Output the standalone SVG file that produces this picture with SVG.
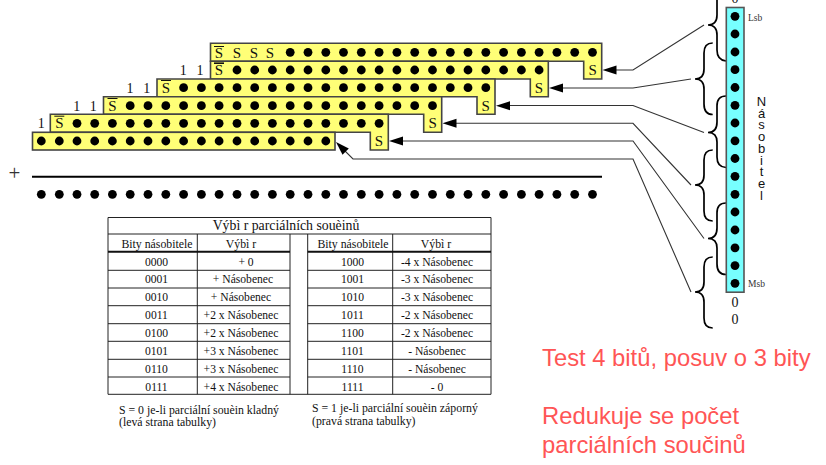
<svg xmlns="http://www.w3.org/2000/svg" width="826" height="465" viewBox="0 0 826 465">
<style>
text{font-family:"Liberation Serif",serif;fill:#111}
.bar{fill:#ffff77;stroke:#444;stroke-width:1.6}
.mul{fill:#77ffff;stroke:#555;stroke-width:1.6}
.d{fill:#000}
.b{font-size:15px;text-anchor:middle}
.o{font-size:14px;text-anchor:middle}
.c{font-size:11.6px;text-anchor:middle}
.h{font-size:11.8px;text-anchor:middle}
.n{font-size:11.8px}
.m{font-size:9.500px;fill:#333}
.v{font-family:"Liberation Sans",sans-serif;font-size:13px;text-anchor:middle}
.r{font-family:"Liberation Sans",sans-serif;font-size:23.8px;fill:#ff5555}
.w{fill:none;stroke:#333;stroke-width:1.1}
.br{fill:none;stroke:#000;stroke-width:1.7}
.t{fill:none;stroke:#222;stroke-width:1}
.tk{fill:none;stroke:#111;stroke-width:2}
.a{fill:#000}
</style>
<defs>
<circle id="p" r="4.4" class="d"/>
</defs>
<g id="connectors">
<path class="w" d="M704 25L633 70H616"/>
<path class="w" d="M691 79L633 88H562"/>
<path class="w" d="M704 132.500L633 105.500H510"/>
<path class="w" d="M691 185L633 123.300H456"/>
<path class="w" d="M704 238.500L633 141H403"/>
<path class="w" d="M691 292L633 159H353L342 148"/>
<path class="a" d="M602.500 70l14-4.500v9z"/>
<path class="a" d="M549 88l14-4.500v9z"/>
<path class="a" d="M496 105.700l14-4.500v9z"/>
<path class="a" d="M442.500 123.300l14-4.500v9z"/>
<path class="a" d="M389 141l14-4.500v9z"/>
<path class="a" d="M336 142l12.800 6.500-6.300 6.300z"/>
</g>
<g id="braces">
<path class="br" d="M717 0V15Q717 25 708 25Q717 25 717 35V50Q717 60 726 61"/>
<path class="br" d="M712.700 43Q704 43 704 53V69Q704 79 695 79Q704 79 704 89V104Q704 114.500 712.700 114.500"/>
<path class="br" d="M726 96Q717 96 717 106V122Q717 132.500 708 132.500Q717 132.500 717 142V157Q717 167 726 167.500"/>
<path class="br" d="M712.700 150Q704 150 704 160V175Q704 185 695 185Q704 185 704 195V211Q704 221 712.700 221"/>
<path class="br" d="M726 203Q717 203 717 213V228Q717 238.500 708 238.500Q717 238.500 717 248V264Q717 274.500 726 274.500"/>
<path class="br" d="M712.700 257Q704 257 704 267V282Q704 292 695 292Q704 292 704 302V318Q704 328 712.700 328"/>
</g>
<g id="row1">
<path class="bar" d="M210.500 43.300H601.700V79H583.700V61.300H210.500Z"/>
<text class="b" x="219" y="57.500">S</text><path d="M214 46.500h10" stroke="#111" stroke-width="1"/>
<text class="b" x="237" y="57.500">S</text><text class="b" x="254" y="57.500">S</text><text class="b" x="270" y="57.500">S</text>
<use href="#p" x="290.200" y="52.300"/><use href="#p" x="308" y="52.300"/><use href="#p" x="325.800" y="52.300"/><use href="#p" x="343.500" y="52.300"/><use href="#p" x="361.300" y="52.300"/><use href="#p" x="379.100" y="52.300"/><use href="#p" x="396.900" y="52.300"/><use href="#p" x="414.700" y="52.300"/><use href="#p" x="432.500" y="52.300"/><use href="#p" x="450.300" y="52.300"/><use href="#p" x="468" y="52.300"/><use href="#p" x="485.800" y="52.300"/><use href="#p" x="503.600" y="52.300"/><use href="#p" x="521.400" y="52.300"/><use href="#p" x="539.100" y="52.300"/><use href="#p" x="556.900" y="52.300"/><use href="#p" x="574.700" y="52.300"/><use href="#p" x="592.500" y="52.300"/>
<text class="b" x="592.700" y="75">S</text>
</g>
<g id="row2">
<path class="bar" d="M210.500 61.300H548.300V96.700H530.300V79H210.500Z"/>
<text class="b" x="219" y="75">S</text><path d="M214 63.200h10" stroke="#111" stroke-width="1.600"/>
<use href="#p" x="237" y="70"/><use href="#p" x="254.700" y="70"/><use href="#p" x="272.400" y="70"/><use href="#p" x="290.200" y="70"/><use href="#p" x="308" y="70"/><use href="#p" x="325.800" y="70"/><use href="#p" x="343.500" y="70"/><use href="#p" x="361.300" y="70"/><use href="#p" x="379.100" y="70"/><use href="#p" x="396.900" y="70"/><use href="#p" x="414.700" y="70"/><use href="#p" x="432.500" y="70"/><use href="#p" x="450.300" y="70"/><use href="#p" x="468" y="70"/><use href="#p" x="485.800" y="70"/><use href="#p" x="503.600" y="70"/><use href="#p" x="521.400" y="70"/><use href="#p" x="539.100" y="70"/>
<text class="b" x="539" y="92.700">S</text>
<text class="o" x="183.300" y="74.700">1</text><text class="o" x="200" y="74.700">1</text>
</g>
<g id="row3">
<path class="bar" d="M157 79H495V114.300H477V96.700H157Z"/>
<text class="b" x="165.800" y="92.700">S</text><path d="M161 80.500h10" stroke="#111" stroke-width="1"/>
<use href="#p" x="183.600" y="87.700"/><use href="#p" x="201.400" y="87.700"/><use href="#p" x="219.100" y="87.700"/><use href="#p" x="237" y="87.700"/><use href="#p" x="254.700" y="87.700"/><use href="#p" x="272.400" y="87.700"/><use href="#p" x="290.200" y="87.700"/><use href="#p" x="308" y="87.700"/><use href="#p" x="325.800" y="87.700"/><use href="#p" x="343.500" y="87.700"/><use href="#p" x="361.300" y="87.700"/><use href="#p" x="379.100" y="87.700"/><use href="#p" x="396.900" y="87.700"/><use href="#p" x="414.700" y="87.700"/><use href="#p" x="432.500" y="87.700"/><use href="#p" x="450.300" y="87.700"/><use href="#p" x="468" y="87.700"/><use href="#p" x="485.800" y="87.700"/>
<text class="b" x="485.700" y="110.500">S</text>
<text class="o" x="130" y="92.700">1</text><text class="o" x="146.700" y="92.700">1</text>
</g>
<g id="row4">
<path class="bar" d="M103.500 96.700H441.700V132.300H423.700V114.300H103.500Z"/>
<text class="b" x="112.500" y="110.500">S</text><path d="M107.500 98.500h10" stroke="#111" stroke-width="1"/>
<use href="#p" x="130.200" y="105.700"/><use href="#p" x="148" y="105.700"/><use href="#p" x="165.800" y="105.700"/><use href="#p" x="183.600" y="105.700"/><use href="#p" x="201.400" y="105.700"/><use href="#p" x="219.100" y="105.700"/><use href="#p" x="237" y="105.700"/><use href="#p" x="254.700" y="105.700"/><use href="#p" x="272.400" y="105.700"/><use href="#p" x="290.200" y="105.700"/><use href="#p" x="308" y="105.700"/><use href="#p" x="325.800" y="105.700"/><use href="#p" x="343.500" y="105.700"/><use href="#p" x="361.300" y="105.700"/><use href="#p" x="379.100" y="105.700"/><use href="#p" x="396.900" y="105.700"/><use href="#p" x="414.700" y="105.700"/><use href="#p" x="432.500" y="105.700"/>
<text class="b" x="432.700" y="128">S</text>
<text class="o" x="76.700" y="110.500">1</text><text class="o" x="93.300" y="110.500">1</text>
</g>
<g id="row5">
<path class="bar" d="M50.300 114.300H388.300V150H370.300V132.300H50.300Z"/>
<text class="b" x="59.300" y="128">S</text><path d="M54.300 116.200h10" stroke="#111" stroke-width="1"/>
<use href="#p" x="77" y="123.300"/><use href="#p" x="94.700" y="123.300"/><use href="#p" x="112.400" y="123.300"/><use href="#p" x="130.200" y="123.300"/><use href="#p" x="148" y="123.300"/><use href="#p" x="165.800" y="123.300"/><use href="#p" x="183.600" y="123.300"/><use href="#p" x="201.400" y="123.300"/><use href="#p" x="219.100" y="123.300"/><use href="#p" x="237" y="123.300"/><use href="#p" x="254.700" y="123.300"/><use href="#p" x="272.400" y="123.300"/><use href="#p" x="290.200" y="123.300"/><use href="#p" x="308" y="123.300"/><use href="#p" x="325.800" y="123.300"/><use href="#p" x="343.500" y="123.300"/><use href="#p" x="361.300" y="123.300"/><use href="#p" x="379.100" y="123.300"/>
<text class="b" x="379" y="145.500">S</text>
<text class="o" x="41.300" y="128">1</text>
</g>
<g id="row6">
<rect class="bar" x="32.500" y="132.300" width="302.500" height="17.700"/>
<use href="#p" x="41.300" y="141"/><use href="#p" x="59.300" y="141"/><use href="#p" x="77" y="141"/><use href="#p" x="94.700" y="141"/><use href="#p" x="112.400" y="141"/><use href="#p" x="130.200" y="141"/><use href="#p" x="148" y="141"/><use href="#p" x="165.800" y="141"/><use href="#p" x="183.600" y="141"/><use href="#p" x="201.400" y="141"/><use href="#p" x="219.100" y="141"/><use href="#p" x="237" y="141"/><use href="#p" x="254.700" y="141"/><use href="#p" x="272.400" y="141"/><use href="#p" x="290.200" y="141"/><use href="#p" x="308" y="141"/><use href="#p" x="325.800" y="141"/>
</g>
<g id="sum">
<text x="14.500" y="179.500" font-size="21" text-anchor="middle" style="fill:#333">+</text>
<path d="M32 176.700H602" stroke="#000" stroke-width="2"/>
<use href="#p" x="41.300" y="194.300"/><use href="#p" x="59.300" y="194.300"/><use href="#p" x="77" y="194.300"/><use href="#p" x="94.700" y="194.300"/><use href="#p" x="112.400" y="194.300"/><use href="#p" x="130.200" y="194.300"/><use href="#p" x="148" y="194.300"/><use href="#p" x="165.800" y="194.300"/><use href="#p" x="183.600" y="194.300"/><use href="#p" x="201.400" y="194.300"/><use href="#p" x="219.100" y="194.300"/><use href="#p" x="237" y="194.300"/><use href="#p" x="254.700" y="194.300"/><use href="#p" x="272.400" y="194.300"/><use href="#p" x="290.200" y="194.300"/><use href="#p" x="308" y="194.300"/><use href="#p" x="325.800" y="194.300"/><use href="#p" x="343.500" y="194.300"/><use href="#p" x="361.300" y="194.300"/><use href="#p" x="379.100" y="194.300"/><use href="#p" x="396.900" y="194.300"/><use href="#p" x="414.700" y="194.300"/><use href="#p" x="432.500" y="194.300"/><use href="#p" x="450.300" y="194.300"/><use href="#p" x="468" y="194.300"/><use href="#p" x="485.800" y="194.300"/><use href="#p" x="503.600" y="194.300"/><use href="#p" x="521.400" y="194.300"/><use href="#p" x="539.100" y="194.300"/><use href="#p" x="556.900" y="194.300"/><use href="#p" x="574.700" y="194.300"/><use href="#p" x="592.500" y="194.300"/>
</g>
<g id="multiplier">
<rect class="mul" x="726.300" y="7.500" width="17.700" height="284.700"/>
<use href="#p" x="735" y="16.300"/><use href="#p" x="735" y="34"/><use href="#p" x="735" y="52"/><use href="#p" x="735" y="69.700"/><use href="#p" x="735" y="87.500"/><use href="#p" x="735" y="105.300"/><use href="#p" x="735" y="123"/><use href="#p" x="735" y="140.800"/><use href="#p" x="735" y="158.500"/><use href="#p" x="735" y="176.300"/><use href="#p" x="735" y="194.300"/><use href="#p" x="735" y="212"/><use href="#p" x="735" y="230"/><use href="#p" x="735" y="247.800"/><use href="#p" x="735" y="265.600"/><use href="#p" x="735" y="283.300"/>
<text class="m" x="748" y="20.800">Lsb</text>
<text class="m" x="748" y="287">Msb</text>
<text class="o" x="735" y="3">0</text>
<text class="o" x="735" y="307">0</text>
<text class="o" x="735" y="324">0</text>
<text class="v" y="106"><tspan x="761.500">N</tspan><tspan x="761.500" dy="11.700">á</tspan><tspan x="761.500" dy="11.700">s</tspan><tspan x="761.500" dy="11.700">o</tspan><tspan x="761.500" dy="11.700">b</tspan><tspan x="761.500" dy="11.700">i</tspan><tspan x="761.500" dy="11.700">t</tspan><tspan x="761.500" dy="11.700">e</tspan><tspan x="761.500" dy="11.700">l</tspan></text>
</g>
<g id="table">
<path class="t" d="M108 217.500H491V394.300H108ZM108 234H491M197.300 234V394.300M290 234V394.300M307.700 234V394.300M392.700 234V394.300"/>
<path class="tk" d="M108 251.800H290M307.700 251.800H491"/>
<path class="t" d="M108 270.300H290M307.700 270.300H491M108 288H290M307.700 288H491M108 305.700H290M307.700 305.700H491M108 323.700H290M307.700 323.700H491M108 341.300H290M307.700 341.300H491M108 359.300H290M307.700 359.300H491M108 377H290M307.700 377H491"/>
<text x="286" y="230" font-size="13.800" text-anchor="middle">Výbì r parciálních souèinů</text>
<text class="h" x="157" y="248">Bity násobitele</text><text class="h" x="241" y="248">Výbì r</text><text class="h" x="353" y="248">Bity násobitele</text><text class="h" x="436" y="248">Výbì r</text>
<text class="c" x="156.500" y="265.500">0000</text><text class="c" x="246" y="265.500">+ 0</text><text class="c" x="352.500" y="265.500">1000</text><text class="c" x="437" y="265.500">-4 x Násobenec</text>
<text class="c" x="156.500" y="283">0001</text><text class="c" x="243" y="283">+ Násobenec</text><text class="c" x="352.500" y="283">1001</text><text class="c" x="437" y="283">-3 x Násobenec</text>
<text class="c" x="156.500" y="301">0010</text><text class="c" x="241" y="301">+ Násobenec</text><text class="c" x="352.500" y="301">1010</text><text class="c" x="437" y="301">-3 x Násobenec</text>
<text class="c" x="156.500" y="319">0011</text><text class="c" x="241" y="319">+2 x Násobenec</text><text class="c" x="352.500" y="319">1011</text><text class="c" x="437" y="319">-2 x Násobenec</text>
<text class="c" x="156.500" y="337">0100</text><text class="c" x="241" y="337">+2 x Násobenec</text><text class="c" x="352.500" y="337">1100</text><text class="c" x="437" y="337">-2 x Násobenec</text>
<text class="c" x="156.500" y="355">0101</text><text class="c" x="241" y="355">+3 x Násobenec</text><text class="c" x="352.500" y="355">1101</text><text class="c" x="437" y="355">- Násobenec</text>
<text class="c" x="156.500" y="372.500">0110</text><text class="c" x="241" y="372.500">+3 x Násobenec</text><text class="c" x="352.500" y="372.500">1110</text><text class="c" x="437" y="372.500">- Násobenec</text>
<text class="c" x="156.500" y="390.500">0111</text><text class="c" x="241" y="390.500">+4 x Násobenec</text><text class="c" x="352.500" y="390.500">1111</text><text class="c" x="437" y="390.500">- 0</text>
<text class="n" x="119" y="413.500">S = 0 je-li parciální souèin kladný</text>
<text class="n" x="119" y="425.500">(levá strana tabulky)</text>
<text class="n" x="312" y="412">S = 1 je-li parciální souèin záporný</text>
<text class="n" x="312" y="425">(pravá strana tabulky)</text>
</g>
<g id="notes">
<text class="r" x="542" y="366">Test 4 bitů, posuv o 3 bity</text>
<text class="r" x="542" y="424">Redukuje se počet</text>
<text class="r" x="542" y="452.500">parciálních součinů</text>
</g>
</svg>
